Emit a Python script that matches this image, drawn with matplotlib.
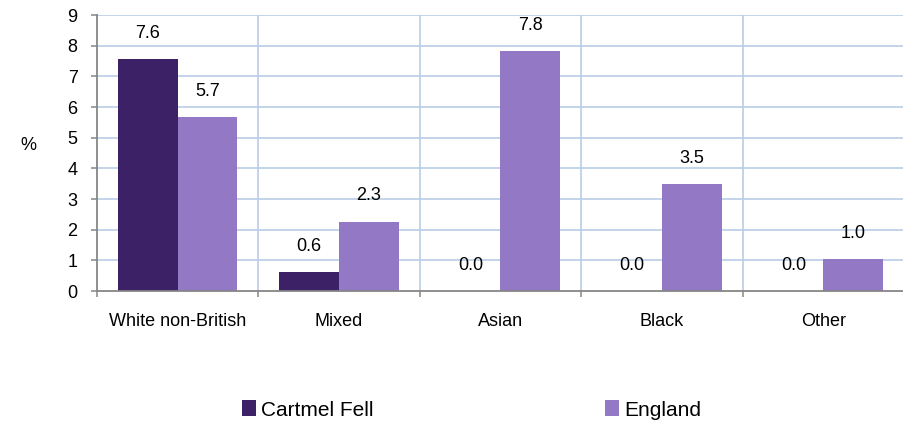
import matplotlib
matplotlib.use('Agg')
import matplotlib.pyplot as plt
import numpy as np

# data
categories = ['White non-British', 'Mixed', 'Asian', 'Black', 'Other']
cartmel_fell = [7.56, 0.62, 0.0, 0.0, 0.0]
england = [5.68, 2.26, 7.83, 3.48, 1.04]
series_names = ['Cartmel Fell', 'England']

plt.rcParams['font.family'] = ['Liberation Sans', 'DejaVu Sans']

dark = '#3D2166'
light = '#9379C5'
grid_colour = '#B9CDE5'
axis_colour = '#868686'
fs = 13

fig = plt.figure(figsize=(9.04, 4.26), dpi=100)
ax = fig.add_axes([97 / 904, 1 - 291 / 426, 1 - 97 / 904, (291 - 15) / 426])

x = np.arange(len(categories))
width = 0.37
b1 = ax.bar(x - width / 2, cartmel_fell, width, color=dark, label=series_names[0], zorder=3)
b2 = ax.bar(x + width / 2, england, width, color=light, label=series_names[1], zorder=3)

# value labels above bars
for bars in [b1, b2]:
    for rect in bars:
        h = rect.get_height()
        ax.annotate('%.1f' % h, (rect.get_x() + rect.get_width() / 2, h),
                    xytext=(0, 18.5), textcoords='offset points',
                    ha='center', va='center', fontsize=fs, color='black')

ax.set_xlim(-0.5, len(categories) - 0.5)
ax.set_ylim(0, 9)
ax.set_yticks(range(0, 10))

# grid: horizontal at every unit, vertical at category boundaries
for yv in range(1, 10):
    ax.axhline(yv, color=grid_colour, lw=1.2, zorder=1)
for xv in np.arange(0.5, len(categories), 1.0):
    ax.axvline(xv, color=grid_colour, lw=1.2, zorder=1)

# major ticks at boundaries, labels on minor ticks at centres
ax.set_xticks(np.arange(-0.5, len(categories) + 0.5, 1.0))
ax.set_xticklabels([])
ax.set_xticks(x, minor=True)
ax.set_xticklabels(categories, minor=True, fontsize=fs)
ax.tick_params(axis='x', which='major', length=4, width=1.1, color=axis_colour, direction='out')
ax.tick_params(axis='x', which='minor', length=0, pad=16)
ax.tick_params(axis='y', length=4, width=1.1, color=axis_colour, direction='out', pad=10, labelsize=fs)

for s in ['top', 'right']:
    ax.spines[s].set_visible(False)
for s in ['left', 'bottom']:
    ax.spines[s].set_color(axis_colour)
    ax.spines[s].set_linewidth(1.3)
    ax.spines[s].set_zorder(4)

fig.text(28 / 904, 1 - 146 / 426, '%', fontsize=fs, ha='center', va='center')

leg = fig.legend(handles=[b1, b2], loc='center left', bbox_to_anchor=(242 / 904, 1 - 410 / 426),
                 ncol=2, frameon=False, fontsize=15, borderpad=0, borderaxespad=0,
                 handlelength=0.67, handleheight=0.77, handletextpad=0.25, columnspacing=11.1)

fig.savefig('out.png', dpi=100)
